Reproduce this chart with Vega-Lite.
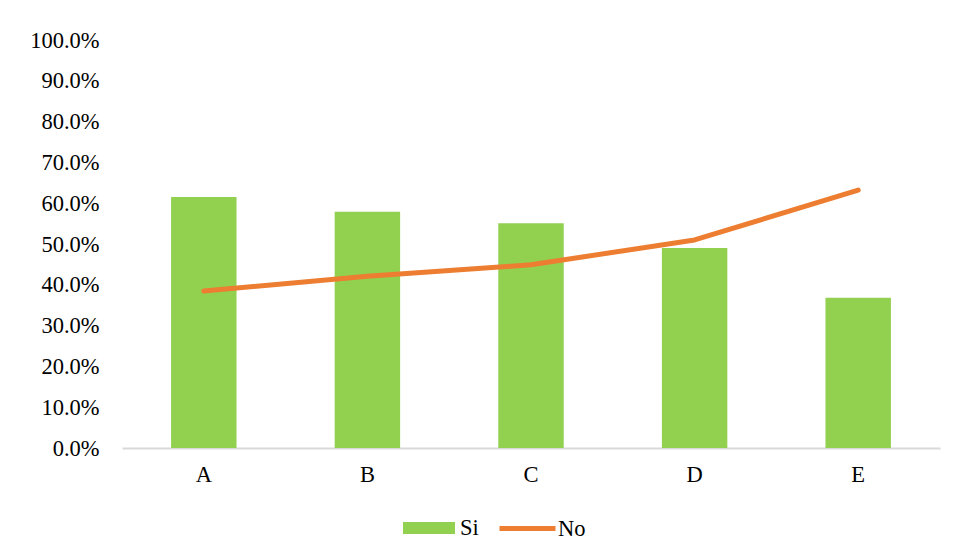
{
  "$schema": "https://vega.github.io/schema/vega-lite/v6.json",
  "width": 818,
  "height": 408,
  "autosize": "none",
  "padding": {"left": 122, "top": 40, "right": 17, "bottom": 110},
  "background": "white",
  "config": {
    "view": {"stroke": null},
    "font": "Liberation Serif, Times New Roman, serif",
    "axis": {"labelFont": "Liberation Serif, Times New Roman, serif", "labelFontSize": 22.5, "labelFontWeight": "normal", "labelColor": "#000000", "grid": false, "ticks": false, "title": null},
    "legend": {"labelFont": "Liberation Serif, Times New Roman, serif", "labelFontSize": 22.5, "labelFontWeight": "normal", "labelColor": "#000000", "padding": 0, "title": null}
  },
  "data": {
    "values": [
      {"cat": "A", "Si": 0.615, "No": 0.385},
      {"cat": "B", "Si": 0.579, "No": 0.421},
      {"cat": "C", "Si": 0.551, "No": 0.449},
      {"cat": "D", "Si": 0.49, "No": 0.51},
      {"cat": "E", "Si": 0.368, "No": 0.632}
    ]
  },
  "encoding": {
    "x": {
      "field": "cat",
      "type": "nominal",
      "sort": null,
      "scale": {"paddingInner": 0.6, "paddingOuter": 0.3},
      "axis": {"labelAngle": 0, "domainColor": "#D9D9D9", "domainWidth": 2, "labelPadding": 15}
    }
  },
  "layer": [
    {
      "mark": {"type": "bar", "color": "#92D050"},
      "encoding": {
        "y": {
          "field": "Si",
          "type": "quantitative",
          "scale": {"domain": [0, 1]},
          "axis": {"values": [0, 0.1, 0.2, 0.3, 0.4, 0.5, 0.6, 0.7, 0.8, 0.9, 1], "format": ".1%", "domain": false, "labelPadding": 23}
        },
        "fill": {
          "datum": "Si",
          "scale": {"domain": ["Si"], "range": ["#92D050"]},
          "legend": {"orient": "none", "legendX": 281, "legendY": 462, "symbolType": "M-1,-0.23H1V0.23H-1Z", "symbolSize": 2704, "symbolStrokeWidth": 0, "labelOffset": 5}
        }
      }
    },
    {
      "mark": {"type": "line", "color": "#ED7D31", "strokeWidth": 5, "strokeCap": "round", "strokeJoin": "round"},
      "encoding": {
        "y": {"field": "No", "type": "quantitative"},
        "stroke": {
          "datum": "No",
          "scale": {"domain": ["No"], "range": ["#ED7D31"]},
          "legend": {"orient": "none", "legendX": 375, "legendY": 458, "symbolType": "stroke", "symbolSize": 3136, "symbolStrokeWidth": 5, "labelOffset": 0}
        }
      }
    }
  ]
}
